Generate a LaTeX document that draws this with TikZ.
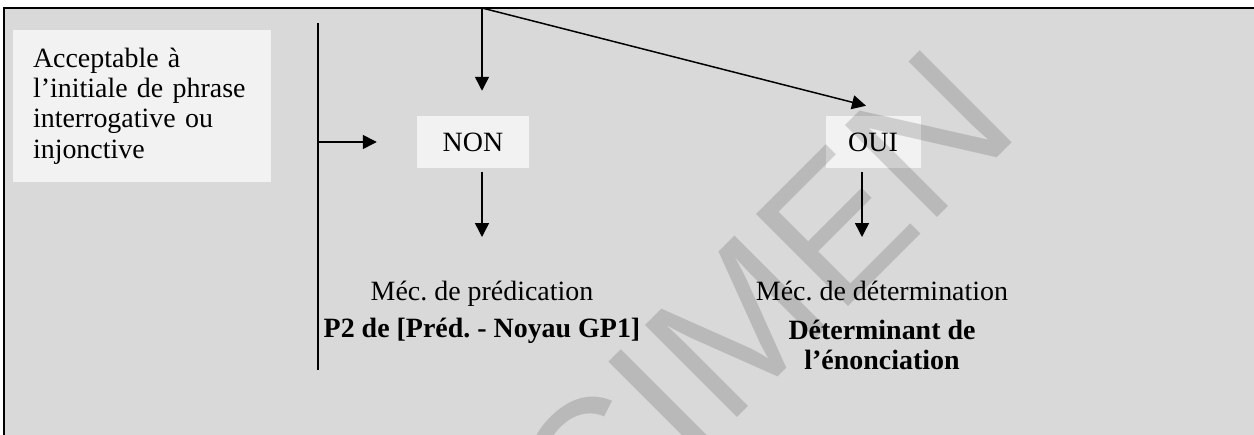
\documentclass[tikz,border=0pt]{standalone}
\usepackage{fontspec}
\setmainfont{Liberation Serif}
\newfontfamily\wmfont{Liberation Sans}
\usetikzlibrary{arrows.meta,calc}

\definecolor{panel}{HTML}{D9D9D9}
\definecolor{boxfill}{HTML}{F2F2F2}
\definecolor{wmgray}{HTML}{DADADA}

\begin{document}
\frenchspacing
\begin{tikzpicture}[x=0.02cm, y=-0.02cm, line width=0.03cm,
  >={Triangle[length=0.28cm,width=0.28cm]},
  every node/.style={font=\fontsize{15.9}{17.2}\selectfont},
  box/.style={rectangle, fill=boxfill, inner sep=0pt, minimum height=1.06cm},
  mectext/.style={align=center, inner sep=0pt, anchor=north}]
  \useasboundingbox (0,0) rectangle (1254,435);
  \clip (0,0) rectangle (1254,435);
  \fill[panel] (4,8) rectangle (1270,450);
  \draw[line width=0.05cm] (4,450) |- (1270,8);

  \node[box, minimum width=5.16cm, minimum height=3.04cm, text width=4.36cm,
        align=left] (accept) at (142,106)
        {Acceptable à\\l’initiale de phrase\\interrogative ou\\injonctive};
  \node[box, minimum width=2.26cm] (non) at (473,142) {NON};
  \node[box, minimum width=1.9cm] (oui) at (873,142) {OUI};
  \node[mectext] (pred) at (482,280)
        {Méc. de prédication\\[0.14cm]\textbf{P2 de [Préd. - Noyau GP1]}};
  \node[mectext] (det) at (882,280)
        {Méc. de détermination\\[0.18cm]\textbf{Déterminant de}\\\textbf{l’énonciation}};

  \coordinate (top) at (482,8);
  \coordinate (vtop) at (318,23);
  \coordinate (vbot) at (318,370);

  \draw[->, shorten >=0.48cm] (top) -- (top |- non.north);
  \draw[->] (top) -- ($(oui.north)+(-7,-9)$);
  \draw (vtop) -- (vbot);
  \draw[->, shorten >=0.78cm] (vtop |- non.west) -- (non.west);
  \draw[->, shorten >=0.86cm] ($(non.south -| pred.north)+(0,3)$) coordinate (n1) -- (n1 |- pred.north);
  \draw[->, shorten >=0.86cm] ($(oui.south)+(-11,3)$) coordinate (o1) -- (o1 |- det.north);

  % filigrane
  \begin{scope}[blend mode=multiply]
    \node[text=wmgray, font=\wmfont\fontsize{107.7}{110}\selectfont, rotate=45,
          inner sep=0pt] (specimen) at (628,435) {SPECIMEN};
  \end{scope}
\end{tikzpicture}
\end{document}
